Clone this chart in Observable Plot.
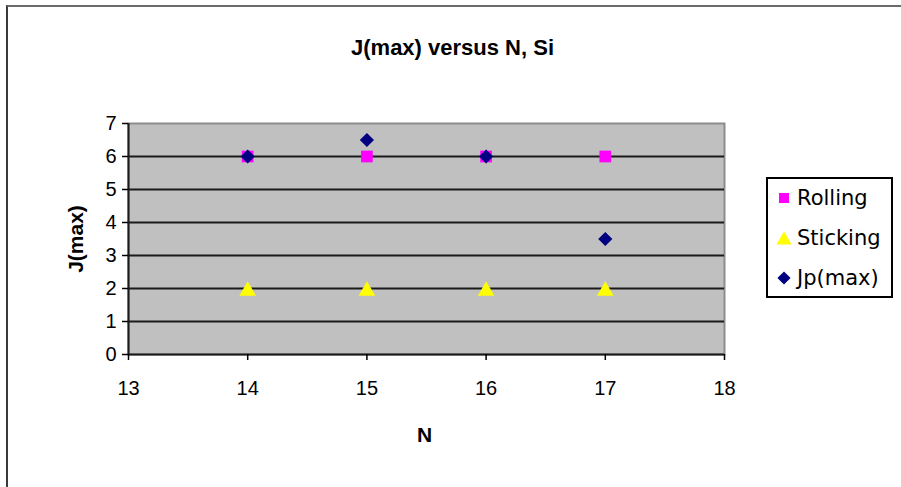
<!DOCTYPE html>
<html>
<head>
<meta charset="utf-8">
<script src="https://cdn.jsdelivr.net/npm/d3@7"></script>
<script src="https://cdn.jsdelivr.net/npm/@observablehq/plot@0.6"></script>
<style>
  html, body { margin: 0; padding: 0; background: #fff; }
  #wrap { position: relative; width: 901px; height: 487px; overflow: hidden; }
  #border { position: absolute; left: 6px; top: 5px; width: 1000px; height: 1000px;
            border-left: 2px solid #3a3a3a; border-top: 2px solid #6a6a6a; box-sizing: border-box; }
  #legend { position: absolute; left: 766px; top: 177px; width: 127px; height: 121px;
            border: 2px solid #000; box-sizing: border-box; background: #fff;
            font-family: "DejaVu Sans", sans-serif; font-size: 21px; color: #000; }
  .item { position: absolute; left: 8px; height: 24px; display: flex; align-items: center; }
  .item svg { margin-right: 5px; }
  svg text { font-family: "Liberation Sans", Arial, sans-serif; }
</style>
</head>
<body>
<div id="wrap"><div id="border"></div></div>
<script>
// Number of Si atoms on the horizontal axis
const nValues = [14, 15, 16, 17];
// J(max) for each regime
const rolling = [6, 6, 6, 6];
const sticking = [2, 2, 2, 2];
const jpMax = [6, 6.5, 6, 3.5];

const xTicks = [13, 14, 15, 16, 17, 18];
const yTicks = [0, 1, 2, 3, 4, 5, 6, 7];
const gridLevels = [1, 2, 3, 4, 5, 6];

const seriesNames = ["Rolling", "Sticking", "Jp(max)"];
const seriesColors = ["#ff00ff", "#ffff00", "#000080"];
const seriesSymbols = ["square", "triangle", "diamond2"];

const titleText = "J(max) versus N, Si";
const xLabel = "N";
const yLabel = "J(max)";

const rows = (vals) => nValues.map((n, i) => ({n, j: vals[i]}));

const chart = Plot.plot({
  width: 901,
  height: 487,
  marginLeft: 128,
  marginRight: 177,
  marginTop: 123,
  marginBottom: 133,
  style: {background: "transparent", fontFamily: "Liberation Sans, Arial, sans-serif"},
  x: {domain: [13, 18], axis: null},
  y: {domain: [0, 7], axis: null},
  marks: [
    Plot.frame({fill: "#c0c0c0", stroke: "#8c8c8c", strokeWidth: 2}),
    Plot.ruleY(gridLevels, {stroke: "#1a1a1a", strokeWidth: 2}),
    Plot.ruleY([0], {stroke: "#1a1a1a", strokeWidth: 2}),
    Plot.ruleX([13], {stroke: "#1a1a1a", strokeWidth: 2}),
    Plot.axisY(yTicks, {tickSize: 6, tickPadding: 6, fontSize: 20, stroke: "#000", strokeWidth: 1.5, fill: "#000", label: null, tickFormat: "d"}),
    Plot.axisX(xTicks, {tickSize: 6, tickPadding: 20, fontSize: 20, stroke: "#000", strokeWidth: 1.5, fill: "#000", label: null, tickFormat: "d"}),
    Plot.dot(rows(rolling), {x: "n", y: "j", symbol: "square", r: 6.6, fill: seriesColors[0], stroke: "none"}),
    // triangles are centred on their bounding box rather than their centroid
    Plot.dot(rows(sticking), {x: "n", y: "j", symbol: "triangle", r: 6.2, fill: seriesColors[1], stroke: "none", dy: 2.5}),
    Plot.dot(rows(jpMax), {x: "n", y: "j", symbol: "diamond2", r: 6.4, fill: seriesColors[2], stroke: "none"}),
    Plot.text([titleText], {frameAnchor: "top", textAnchor: "middle", lineAnchor: "middle", dx: 26, dy: -76, fontSize: 22, fontWeight: "bold", fill: "#000"}),
    Plot.text([xLabel], {frameAnchor: "bottom", textAnchor: "middle", lineAnchor: "middle", dx: -2, dy: 81, fontSize: 21, fontWeight: "bold", fill: "#000"}),
    Plot.text([yLabel], {frameAnchor: "left", textAnchor: "middle", dx: -52, rotate: -90, fontSize: 21, fontWeight: "bold", fill: "#000"})
  ]
});
chart.style.position = "absolute";
chart.style.left = "0px";
chart.style.top = "0px";
const wrap = document.getElementById("wrap");
wrap.appendChild(chart);

// Legend box with the three series
const legend = document.createElement("div");
legend.id = "legend";
const itemTops = [7, 47, 87];
seriesNames.forEach((name, i) => {
  const item = document.createElement("div");
  item.className = "item";
  item.style.top = itemTops[i] + "px";
  const sym = d3.create("svg").attr("width", 16).attr("height", 16);
  const symType = {square: d3.symbolSquare, triangle: d3.symbolTriangle, diamond2: d3.symbolDiamond2}[seriesSymbols[i]];
  const size = {square: 100, triangle: 100, diamond2: 110}[seriesSymbols[i]];
  sym.append("path")
    .attr("transform", seriesSymbols[i] === "triangle" ? "translate(8,10)" : "translate(8,8)")
    .attr("d", d3.symbol(symType, size)())
    .attr("fill", seriesColors[i]);
  item.appendChild(sym.node());
  const label = document.createElement("span");
  label.textContent = name;
  item.appendChild(label);
  legend.appendChild(item);
});
wrap.appendChild(legend);
</script>
</body>
</html>
